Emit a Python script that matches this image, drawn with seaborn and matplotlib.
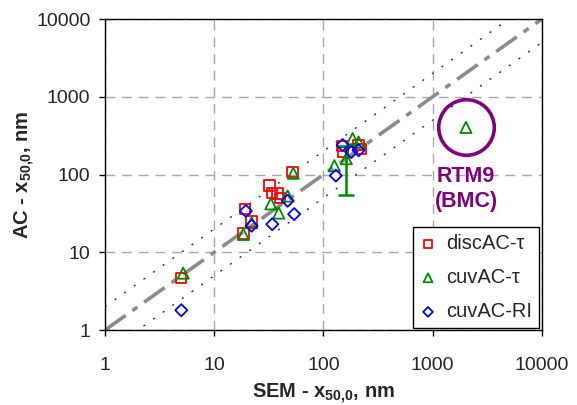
import pandas as pd
import seaborn as sns
import matplotlib.pyplot as plt
from matplotlib.ticker import FixedLocator, FixedFormatter, NullLocator

# SEM vs AC median sizes (nm)
disc_x = [5, 18.5, 19, 22, 32, 34, 38, 40, 52, 150, 152, 210, 220]
disc_y = [4.7, 17.5, 36, 25, 72, 58, 57, 50, 108, 235, 195, 240, 215]
cuv_x = [5.2, 18.5, 22, 33, 39, 47, 53, 126, 162, 185, 210, 2020]
cuv_y = [5.4, 17, 24, 42, 32, 53, 104, 130, 160, 290, 262, 404]
ri_x = [5, 19.5, 22, 34, 47, 54, 130, 150, 180, 210]
ri_y = [1.8, 34, 22, 23, 46, 31, 97, 240, 195, 205]

# error bar on one cuvAC-tau point
err_x = [162]
err_y = [160]
err_lo = [55]
err_hi = [235]

# RTM9 (BMC) highlighted sample
rtm_x = [2020]
rtm_y = [404]

ref_x = [1, 10000]
ticks = [1, 10, 100, 1000, 10000]
tick_labels = ['1', '10', '100', '1000', '10000']

sns.set_theme(style='white')
plt.rcParams['font.family'] = ['Liberation Sans', 'DejaVu Sans']
plt.rcParams['mathtext.fontset'] = 'custom'
plt.rcParams['mathtext.rm'] = 'Liberation Sans'
plt.rcParams['mathtext.bf'] = 'Liberation Sans:bold'

fig = plt.figure(figsize=(5.77, 4.05), dpi=100)
ax = fig.add_axes([0.182, 0.185, 0.757, 0.768])
ax.set_xscale('log')
ax.set_yscale('log')

# reference lines: 1:1 and factor-of-two band
ax.plot(ref_x, ref_x, color='#8c8c8c', lw=2.6, dashes=(7, 2.3, 1.7, 2.3), zorder=2)
ax.plot(ref_x, [2 * v for v in ref_x], color='#333333', lw=1.0, dashes=(1.5, 7), zorder=2)
ax.plot(ref_x, [0.5 * v for v in ref_x], color='#333333', lw=1.0, dashes=(1.5, 7), zorder=2)

red = '#ff0000'
green = '#008a00'
blue = '#0000ff'

sns.scatterplot(x=disc_x, y=disc_y, ax=ax, marker='s', s=55, color=red,
                facecolor='none', edgecolor=red, linewidth=1.3, label='discAC-τ', zorder=3)
ax.errorbar(err_x, err_y, yerr=[[err_y[0] - err_lo[0]], [err_hi[0] - err_y[0]]],
            fmt='none', ecolor=green, elinewidth=1.8, capsize=6, capthick=1.8, zorder=3)
sns.scatterplot(x=cuv_x, y=cuv_y, ax=ax, marker='^', s=65, color=green,
                facecolor='none', edgecolor=green, linewidth=1.3, label='cuvAC-τ', zorder=4)
sns.scatterplot(x=ri_x, y=ri_y, ax=ax, marker='D', s=38, color=blue,
                facecolor='none', edgecolor=blue, linewidth=1.3, label='cuvAC-RI', zorder=5)

purple = '#800080'
ax.plot(rtm_x, rtm_y, marker='o', ms=40, mfc='none', mec=purple, mew=2.6, ls='none', zorder=6)
ax.text(rtm_x[0], 130, 'RTM9\n(BMC)', color=purple, fontsize=15.5, fontweight='bold',
        ha='center', va='top', linespacing=1.25)

ax.set_xlim(1, 10000)
ax.set_ylim(1, 10000)
for axis in (ax.xaxis, ax.yaxis):
    axis.set_major_locator(FixedLocator(ticks))
    axis.set_major_formatter(FixedFormatter(tick_labels))
    axis.set_minor_locator(NullLocator())
ax.tick_params(axis='both', which='major', direction='out', length=4.5, width=1,
               color='black', labelsize=14, bottom=True, left=True)
ax.tick_params(axis='x', pad=15)
ax.tick_params(axis='y', pad=6)
ax.grid(True, which='major', color='#a8a8a8', lw=1, dashes=(7, 5))
for sp in ax.spines.values():
    sp.set_color('black')
    sp.set_linewidth(1)

ax.set_xlabel(r'SEM - x$_{\mathbf{50{,}0}}$, nm', fontsize=14.5, fontweight='bold')
ax.set_ylabel(r'AC - x$_{\mathbf{50{,}0}}$, nm', fontsize=14.5, fontweight='bold')
ax.xaxis.set_label_coords(0.5, -0.165)
ax.yaxis.set_label_coords(-0.155, 0.5)

leg = ax.legend(loc='lower right', bbox_to_anchor=(0.994, 0.006), borderaxespad=0,
                fontsize=14.5, frameon=True, fancybox=False, framealpha=1,
                edgecolor='black', handlelength=0.8, handletextpad=0.5,
                labelspacing=0.75, borderpad=0.35, markerscale=0.8)
leg.get_frame().set_linewidth(1)
leg.set_zorder(10)

fig.savefig('out.png', dpi=100)
